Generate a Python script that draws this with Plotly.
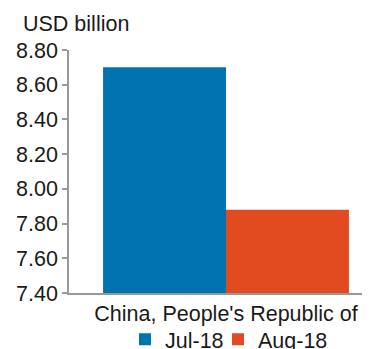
import plotly.graph_objects as go

categories = ["China, People's Republic of"]
series_names = ["Jul-18", "Aug-18"]
jul_values = [8.70]
aug_values = [7.88]
tick_vals = [7.40, 7.60, 7.80, 8.00, 8.20, 8.40, 8.60, 8.80]
tick_text = ["7.40", "7.60", "7.80", "8.00", "8.20", "8.40", "8.60", "8.80"]
colors = ["#0073B0", "#E24A1F"]

font_family = "Liberation Sans, Arial, sans-serif"
FS = 21.5

fig = go.Figure()
legend_ids = ["legend", "legend2"]
for name, vals, c, lg in zip(series_names, [jul_values, aug_values], colors, legend_ids):
    fig.add_trace(go.Bar(x=[0], y=vals, name=name, legend=lg,
                         marker=dict(color=c, line=dict(width=0))))

leg_common = dict(orientation="h", xanchor="left", y=-0.19, yanchor="middle",
                  font=dict(size=FS), bgcolor="rgba(0,0,0,0)")

fig.update_layout(
    width=362, height=341,
    margin=dict(l=61, r=0, t=42, b=56, autoexpand=False),
    paper_bgcolor="white", plot_bgcolor="white",
    barmode="group", bargap=0.217, bargroupgap=0,
    font=dict(family=font_family, size=FS, color="#1a1a1a"),
    showlegend=True,
    legend=dict(x=0.186, **leg_common),
    legend2=dict(x=0.495, **leg_common),
    annotations=[dict(text="USD billion", xref="paper", yref="paper", x=-0.16, y=1.0,
                      xanchor="left", yanchor="bottom", yshift=12, showarrow=False,
                      font=dict(size=FS))],
)
fig.update_xaxes(
    type="linear", range=[-0.5, 0.4586], tickvals=[0], ticktext=categories,
    showline=True, linecolor="#999999", linewidth=1.5, ticks="", showgrid=False,
    zeroline=False, tickfont=dict(size=FS), automargin=False,
)
fig.update_yaxes(
    range=[7.4, 8.8], tickvals=tick_vals, ticktext=tick_text,
    showline=True, linecolor="#999999", linewidth=1.5, ticks="outside", ticklen=5,
    tickcolor="#999999", tickwidth=1.5, showgrid=False, zeroline=False,
    tickfont=dict(size=FS), automargin=False,
)

fig.write_html("out.html")
